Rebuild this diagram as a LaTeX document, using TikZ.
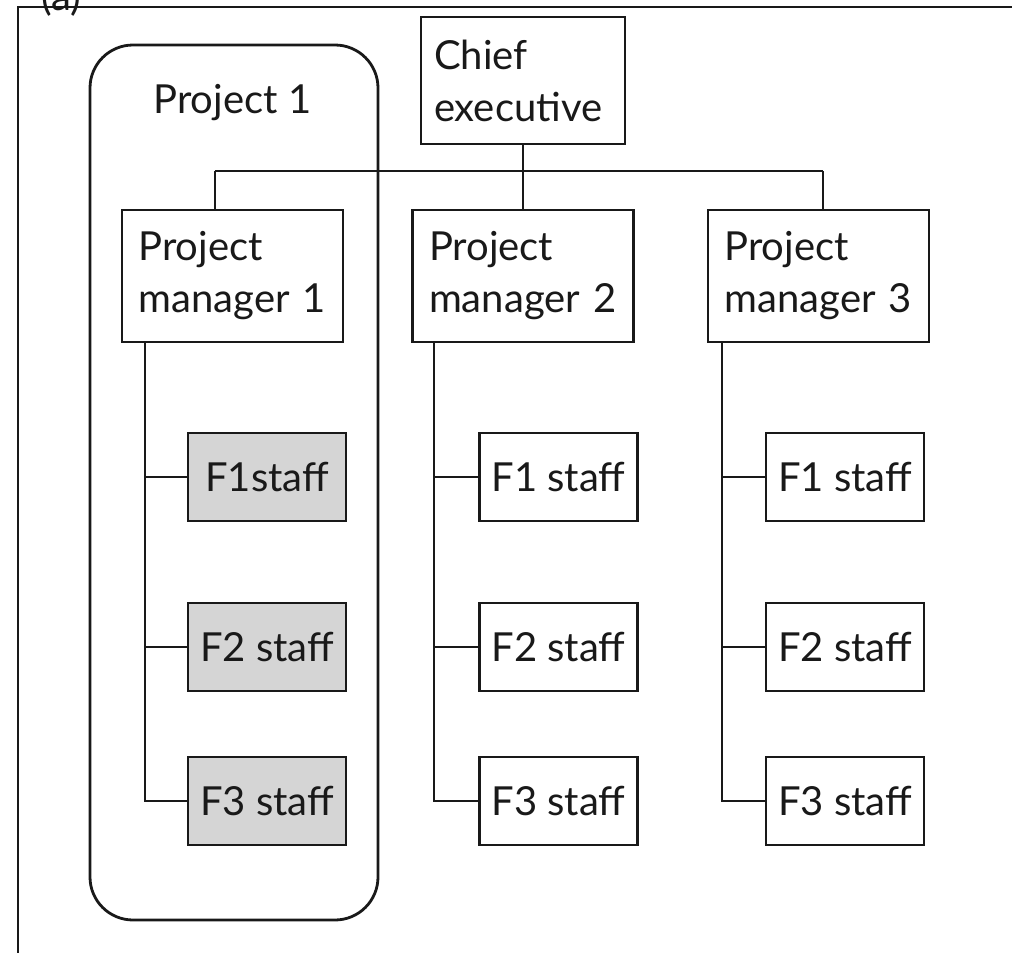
\documentclass[tikz,border=0pt]{standalone}
\usepackage{fontspec}
\setmainfont{Lato}
\definecolor{shade}{RGB}{213,213,213}
\definecolor{ink}{RGB}{25,25,25}
\begin{document}
\begin{tikzpicture}[x=1pt,y=-1pt,
  every node/.style={font=\fontsize{40}{52}\selectfont, text=ink},
  line/.style={draw=ink, line width=2.8pt},
  box/.style={line, rectangle, inner sep=0pt, fill=white},
  mgr/.style={box, minimum width=221pt, minimum height=132pt, text width=188pt, align=left},
  boss/.style={box, minimum width=204pt, minimum height=127pt, text width=178pt, align=left},
  staff/.style={box, minimum width=158pt, minimum height=88pt, align=center},
  grey/.style={staff, fill=shade},
  group/.style={line, rounded corners=43pt}
]
\useasboundingbox (0,0) rectangle (1012,953);
% frame
\draw[draw=ink, line width=2.4pt] (1012,7) -- (18,7) -- (18,953);
\node[anchor=base west] (lbl) at (38,10) {(a)};
% project group
\draw[group] (90,45) rectangle (378,920);
\node[anchor=base west] (proj) at (150,113) {Project 1};
% nodes
\node[boss] (ceo) at (523,80.5) {Chief\\executive};
\node[mgr] (pm1) at (232.5,276) {Project\\manager 1};
\node[mgr] (pm2) at (523,276) {Project\\manager 2};
\node[mgr] (pm3) at (818.5,276) {Project\\manager 3};
\node[grey] (a1) at (267,477) {F1staff};
\node[grey] (a2) at (267,647) {F2 staff};
\node[grey] (a3) at (267,801) {F3 staff};
\node[staff] (b1) at (558.5,477) {F1 staff};
\node[staff] (b2) at (558.5,647) {F2 staff};
\node[staff] (b3) at (558.5,801) {F3 staff};
\node[staff] (c1) at (845,477) {F1 staff};
\node[staff] (c2) at (845,647) {F2 staff};
\node[staff] (c3) at (845,801) {F3 staff};
% bus
\coordinate (busL) at (215,171);
\coordinate (busR) at (823,171);
\draw[line] (busL) -- (busR);
\draw[line] (ceo.south) -- (pm2.north);
\draw[line] (busL) -- (busL |- pm1.north);
\draw[line] (busR) -- (busR |- pm3.north);
% columns
\coordinate (v1) at (145,342);
\coordinate (v2) at (434,342);
\coordinate (v3) at (722,342);
\draw[line] (v1) |- (a3.west);
\draw[line] (v1 |- a1.west) -- (a1.west);
\draw[line] (v1 |- a2.west) -- (a2.west);
\draw[line] (v2) |- (b3.west);
\draw[line] (v2 |- b1.west) -- (b1.west);
\draw[line] (v2 |- b2.west) -- (b2.west);
\draw[line] (v3) |- (c3.west);
\draw[line] (v3 |- c1.west) -- (c1.west);
\draw[line] (v3 |- c2.west) -- (c2.west);
\end{tikzpicture}
\end{document}
